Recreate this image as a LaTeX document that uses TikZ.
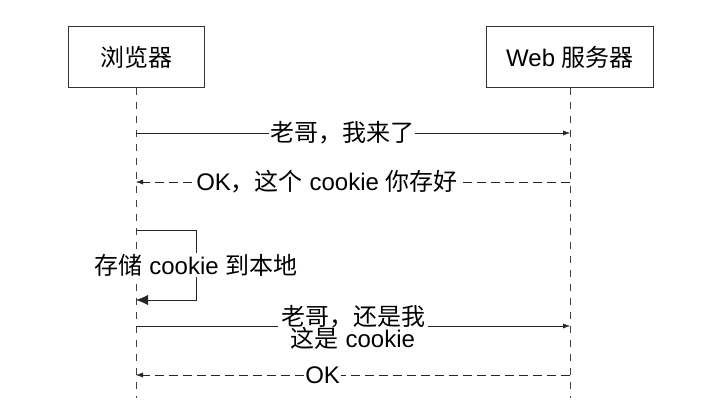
\documentclass[tikz,border=0pt]{standalone}
\usepackage{fontspec}
\setmainfont{Liberation Sans}
\newfontfamily\cjk{Noto Sans CJK SC}
\usetikzlibrary{arrows,arrows.meta,positioning}

\tikzset{
  actor/.style={draw=black!80,thick,minimum width=136pt,minimum height=61pt,font=\fontsize{24}{28}\selectfont},
  lifeline/.style={draw=black!75,dash pattern=on 7pt off 7pt},
  msg/.style={draw=black!85,-{Latex[length=7pt,width=5pt]}},
  reply/.style={msg,dash pattern=on 9pt off 5pt},
  lbl/.style={fill=white,inner sep=1pt,font=\fontsize{24}{28}\selectfont}
}

\begin{document}
\begin{tikzpicture}[x=1pt,y=-1pt]
                \useasboundingbox (0,0) rectangle (713,400);
                \node[actor] (browser) at (136,57) {\cjk 浏览器};
                \node[actor,minimum width=167pt] (server) at (570,57) {Web \cjk 服务器};
                \coordinate (bend) at (136,398);
                \coordinate (send) at (570,398);
                \draw[lifeline] (browser) -- (bend);
                \draw[lifeline] (server) -- (send);
                % messages
                \coordinate (b1) at (136,133);
                \coordinate (s1) at (570,133);
                \coordinate (b2) at (136,182);
                \coordinate (s2) at (570,182);
                \coordinate (b3) at (136,230);
                \coordinate (c3) at (196,230);
                \coordinate (c4) at (196,300);
                \coordinate (b4) at (136,300);
                \coordinate (b5) at (136,326);
                \coordinate (s5) at (570,326);
                \coordinate (b6) at (136,375);
                \coordinate (s6) at (570,375);
                \draw[msg] (b1) -- node[lbl,pos=0.475] (hello) {\cjk 老哥，我来了} (s1);
                \draw[reply] (s2) -- node[lbl,pos=0.56] (keep) {OK{\cjk ，这个} cookie {\cjk 你存好}} (b2);
                \draw[draw=black!85,-{Latex[length=12pt,width=10pt]}] (b3) -- (c3) -- node[lbl] (store) {{\cjk 存储} cookie {\cjk 到本地}} (c4) -- (b4);
                \draw[msg] (b5) -- node[lbl,align=center,pos=0.5,inner sep=0pt,fill=none] (again) {\colorbox{white}{\cjk 老哥，还是我}\\[-6pt]{\cjk 这是} cookie} (s5);
                \draw[reply] (s6) -- node[lbl,pos=0.57] (ok) {OK} (b6);
            \end{tikzpicture}
\end{document}
